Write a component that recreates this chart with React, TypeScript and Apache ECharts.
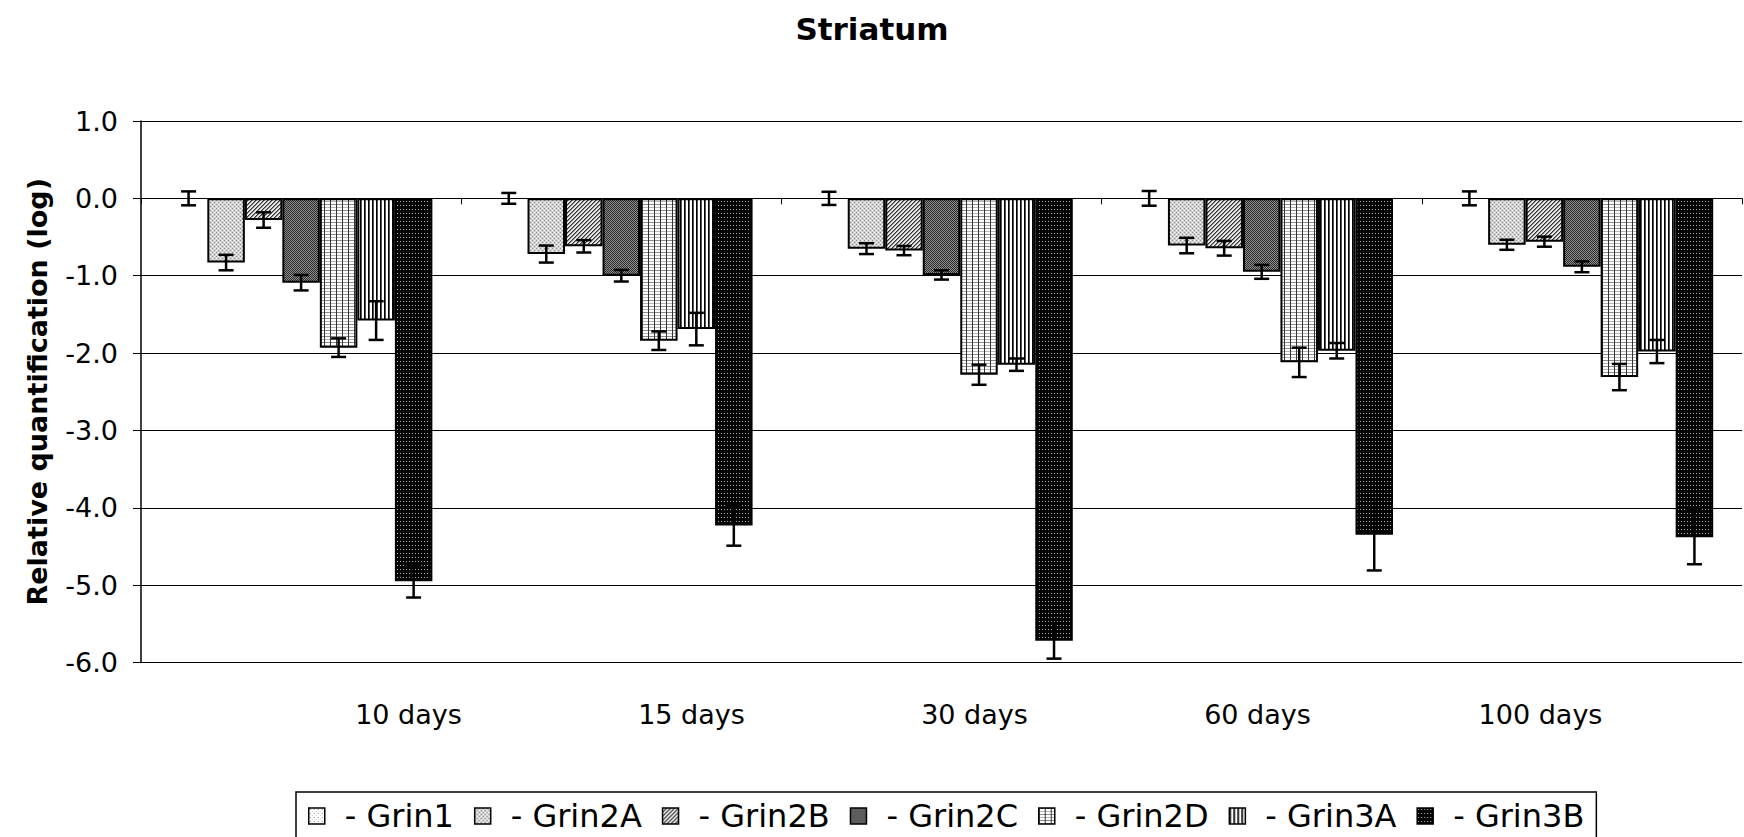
import React, { useEffect, useRef } from "react";
import * as echarts from "echarts";

const categories = ["10 days", "15 days", "30 days", "60 days", "100 days"];
const seriesNames = ["- Grin1", "- Grin2A", "- Grin2B", "- Grin2C", "- Grin2D", "- Grin3A", "- Grin3B"];

const grin1 = [0, 0, 0, 0, 0];
const grin1Err = [0.09, 0.07, 0.085, 0.095, 0.09];
const grin2A = [-0.83, -0.72, -0.65, -0.61, -0.6];
const grin2AErr = [0.1, 0.11, 0.07, 0.1, 0.065];
const grin2B = [-0.28, -0.62, -0.675, -0.645, -0.56];
const grin2BErr = [0.1, 0.08, 0.06, 0.095, 0.065];
const grin2C = [-1.09, -1.0, -0.99, -0.95, -0.885];
const grin2CErr = [0.1, 0.075, 0.06, 0.09, 0.07];
const grin2D = [-1.93, -1.84, -2.28, -2.12, -2.31];
const grin2DErr = [0.12, 0.12, 0.13, 0.19, 0.17];
const grin3A = [-1.58, -1.69, -2.15, -1.97, -1.98];
const grin3AErr = [0.25, 0.21, 0.08, 0.1, 0.15];
const grin3B = [-4.95, -4.23, -5.72, -4.35, -4.38];
const grin3BErr = [0.21, 0.26, 0.23, 0.46, 0.35];

const yMin = -6;
const yMax = 1;
const yInterval = 1;

const values = [grin1, grin2A, grin2B, grin2C, grin2D, grin3A, grin3B];
const errors = [grin1Err, grin2AErr, grin2BErr, grin2CErr, grin2DErr, grin3AErr, grin3BErr];

const FONT = "DejaVu Sans";
const CAT_GAP = 0.18;

function tile(w: number, h: number, bg: string, px: Array<[number, number, string]>) {
  const c = document.createElement("canvas");
  c.width = w;
  c.height = h;
  const ctx = c.getContext("2d")!;
  ctx.fillStyle = bg;
  ctx.fillRect(0, 0, w, h);
  px.forEach(([x, y, col]) => {
    ctx.fillStyle = col;
    ctx.fillRect(x, y, 1, 1);
  });
  return c;
}

function makePatterns() {
  const p1 = tile(4, 4, "#ffffff", [[1, 1, "#8a8a8a"], [3, 3, "#c8c8c8"]]);
  const p2A = tile(4, 4, "#d2d2d2", [[0, 0, "#8c8c8c"], [2, 2, "#8c8c8c"], [2, 0, "#ffffff"], [0, 2, "#ffffff"]]);
  const p2B = tile(4, 4, "#e6e6e6", [
    [3, 0, "#333"], [2, 1, "#333"], [1, 2, "#333"], [0, 3, "#333"],
    [0, 0, "#888"], [3, 1, "#888"], [2, 2, "#888"], [1, 3, "#888"],
  ]);
  const p2C = tile(2, 2, "#2a2a2a", [[1, 0, "#8f8f8f"], [0, 1, "#8f8f8f"]]);
  const d: Array<[number, number, string]> = [];
  for (let y = 0; y < 6; y++) d.push([0, y, "#333"]);
  for (let x = 1; x < 6; x++) { d.push([x, 0, "#8a8a8a"]); d.push([x, 3, "#b5b5b5"]); }
  const p2D = tile(6, 6, "#ffffff", d);
  const p3A = tile(4, 1, "#ffffff", [[0, 0, "#000"], [1, 0, "#555"]]);
  const p3B = tile(3, 4, "#050505", [[1, 1, "#b0b0b0"]]);
  return [p1, p2A, p2B, p2C, p2D, p3A, p3B];
}

export default function App() {
  const ref = useRef<HTMLDivElement>(null);

  useEffect(() => {
    document.body.style.margin = "0";
    const chart = echarts.init(ref.current!, null, { renderer: "svg" });
    const pats = makePatterns();

    const barSeries = seriesNames.map((name, i) => ({
      name,
      type: "bar",
      xAxisIndex: 0,
      yAxisIndex: 0,
      data: values[i],
      barGap: "0%",
      barCategoryGap: (CAT_GAP * 100) + "%",
      itemStyle: {
        color: { image: pats[i], repeat: "repeat" },
        borderColor: "#000",
        borderWidth: i === 0 ? 0 : 2,
      },
      emphasis: { disabled: true },
      silent: true,
    }));

    const errData: number[][] = [];
    values.forEach((arr, s) => {
      arr.forEach((v, c) => {
        errData.push([c, s, v, errors[s][c]]);
      });
    });

    const errSeries = {
      type: "custom",
      xAxisIndex: 0,
      yAxisIndex: 0,
      z: 10,
      silent: true,
      data: errData,
      encode: { x: 0, y: 2 },
      renderItem: (params: any, api: any) => {
        const cat = api.value(0);
        const s = api.value(1);
        const v = api.value(2);
        const e = api.value(3);
        const band = api.size([1, 0])[0];
        const groupW = band * (1 - CAT_GAP);
        const barW = groupW / seriesNames.length;
        const cx = api.coord([cat, 0])[0] - groupW / 2 + barW * (s + 0.5);
        const yTop = api.coord([cat, v + e])[1];
        const yBot = api.coord([cat, v - e])[1];
        const hw = 7.5;
        const style = { stroke: "#000", lineWidth: 2.5 };
        return {
          type: "group",
          children: [
            { type: "line", shape: { x1: cx, y1: yTop, x2: cx, y2: yBot }, style },
            { type: "line", shape: { x1: cx - hw, y1: yTop, x2: cx + hw, y2: yTop }, style },
            { type: "line", shape: { x1: cx - hw, y1: yBot, x2: cx + hw, y2: yBot }, style },
          ],
        };
      },
    };

    const option: any = {
      animation: false,
      backgroundColor: "#ffffff",
      title: {
        text: "Striatum",
        left: "center",
        top: 8,
        textStyle: { fontFamily: FONT, fontSize: 31, fontWeight: "bold", color: "#000" },
      },
      legend: {
        data: seriesNames,
        left: 296,
        top: 792,
        orient: "horizontal",
        icon: "rect",
        itemWidth: 16,
        itemHeight: 16,
        itemGap: 20,
        padding: [8, 12, 30, 12],
        borderColor: "#000",
        borderWidth: 1.5,
        selectedMode: false,
        itemStyle: { borderColor: "#000", borderWidth: 1.5 },
        textStyle: { fontFamily: FONT, fontSize: 32, color: "#000", padding: [0, 0, 0, 15] },
      },
      grid: [
        { left: 141, right: 2, top: 121, bottom: 174.5, containLabel: false },
        { left: 267, right: 62, top: 121, bottom: 174.5, containLabel: false },
      ],
      xAxis: [
        {
          type: "category",
          gridIndex: 0,
          data: categories,
          axisLine: { show: true, onZero: true, lineStyle: { color: "#000", width: 1 } },
          axisTick: { show: true, inside: false, length: 6, lineStyle: { color: "#000", width: 1 } },
          axisLabel: { show: false },
          splitLine: { show: false },
        },
        {
          type: "category",
          gridIndex: 1,
          data: categories,
          axisLine: { show: false },
          axisTick: { show: false },
          splitLine: { show: false },
          axisLabel: { show: true, fontFamily: FONT, fontSize: 27, color: "#000", margin: 38 },
        },
      ],
      yAxis: [
        {
          type: "value",
          gridIndex: 0,
          min: yMin,
          max: yMax,
          interval: yInterval,
          name: "Relative quantification (log)",
          nameLocation: "middle",
          nameGap: 90,
          nameTextStyle: { fontFamily: FONT, fontSize: 27, fontWeight: "bold", color: "#000" },
          axisLine: { show: true, lineStyle: { color: "#000", width: 1.5 } },
          axisTick: { show: true, inside: false, length: 8, lineStyle: { color: "#000", width: 1 } },
          axisLabel: {
            fontFamily: FONT,
            fontSize: 27,
            color: "#000",
            margin: 23,
            formatter: (v: number) => v.toFixed(1),
          },
          splitLine: { show: true, lineStyle: { color: "#000", width: 1 } },
        },
        {
          type: "value",
          gridIndex: 1,
          min: yMin,
          max: yMax,
          interval: yInterval,
          show: false,
          splitLine: { show: false },
        },
      ],
      series: [...barSeries, errSeries],
    };

    chart.setOption(option);
    return () => chart.dispose();
  }, []);

  return <div ref={ref} style={{ width: 1744, height: 837, position: "absolute", left: 0, top: 0 }} />;
}
